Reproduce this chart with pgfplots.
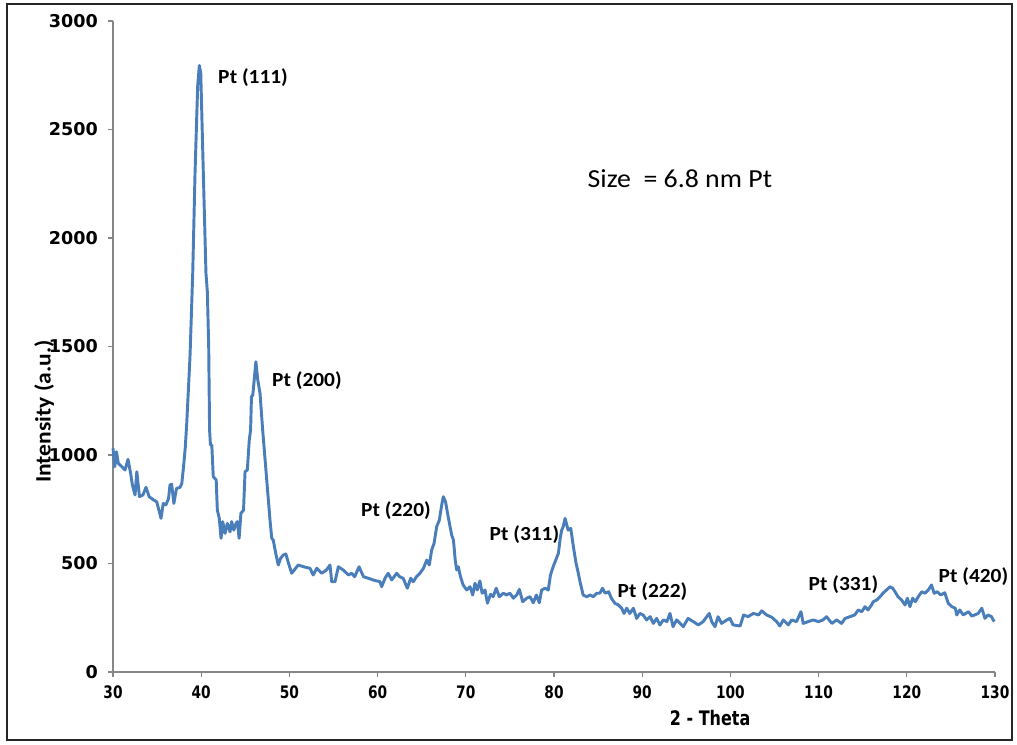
\documentclass[border=0pt]{standalone}
\usepackage{pgfplots}
\pgfplotsset{compat=1.18}
\usepackage{fontspec}
\setmainfont{Carlito}
\newfontfamily\widefont{Carlito}[FakeStretch=1.07]
\newfontfamily\tickfont{DejaVu Sans}
\newfontfamily\xtickfont{DejaVu Sans}[FakeStretch=0.8]
\definecolor{xrdblue}{HTML}{4A7EBB}
\definecolor{axgray}{HTML}{868686}
\begin{document}
\begin{tikzpicture}
\useasboundingbox (0,0) rectangle (762.75pt,558pt);
\draw[line width=0.8pt, black!85] (5.25pt,3pt) rectangle (759pt,555pt);
\begin{axis}[
  at={(84.75pt,54pt)}, anchor=south west,
  width=661.5pt, height=488.25pt, scale only axis,
  xmin=30, xmax=130, ymin=0, ymax=3000,
  xtick={30,40,...,130}, ytick={0,500,...,3000},
  axis lines*=left, axis line style={-, draw=axgray, line width=0.8pt},
  tick align=outside, major tick length=3.75pt,
  tick style={draw=axgray, line width=0.8pt},
  /pgf/number format/assume math mode=true,
  /pgf/number format/1000 sep={},
  scaled y ticks=false,
  yticklabel style={font=\tickfont\bfseries\fontsize{13.2}{15}\selectfont, xshift=-4pt},
  xticklabel style={font=\xtickfont\bfseries\fontsize{12.9}{14}\selectfont, yshift=-3pt},
  xlabel={2 - Theta},
  xlabel style={font=\xtickfont\bfseries\fontsize{15}{17}\selectfont, at={(axis description cs:0.677,-0.0707)}, anchor=center},
  ylabel={Intensity (a.u.)},
  ylabel style={font=\widefont\bfseries\fontsize{16.5}{19}\selectfont, at={(axis description cs:-0.078,0.40)}, anchor=center, rotate=0},
  clip=false,
]
\addplot[color=xrdblue, line width=2.2pt, line join=round] coordinates {
(30.0,1031) (30.2,946) (30.4,1015) (30.6,962) (31.0,946) (31.36,931) (31.7,980) (32.0,915)
(32.2,862) (32.5,816) (32.7,923) (33.0,808) (33.4,816) (33.74,851) (34.1,808) (34.6,793)
(34.95,785) (35.25,739) (35.44,708) (35.7,777) (36.0,770) (36.3,800) (36.46,862) (36.65,866)
(36.9,777) (37.2,846) (37.6,851) (37.8,869) (38.0,946) (38.2,1038) (38.36,1146)
(38.73,1453) (39.04,1838) (39.3,2299) (39.6,2700) (39.79,2795) (39.95,2760) (40.24,2299)
(40.54,1838) (40.7,1750) (40.85,1500) (40.95,1115) (41.05,1046) (41.2,1046)
(41.37,900) (41.7,885) (41.83,746) (42.05,708) (42.25,616) (42.44,693) (42.7,639) (42.96,685)
(43.27,646) (43.45,693) (43.7,654) (43.95,685) (44.1,693) (44.3,616) (44.5,731) (44.8,746)
(44.97,923) (45.23,931) (45.45,1069) (45.6,1115) (45.7,1269) (45.85,1276) (46.2,1430)
(46.4,1350) (46.67,1284) (46.97,1115) (47.43,885) (47.8,700) (48.0,616) (48.17,608)
(48.45,547) (48.74,493) (49.0,524) (49.3,539) (49.6,544) (49.9,501) (50.26,455)
(51.0,493) (51.6,485) (52.33,478) (52.7,447) (53.1,478) (53.66,455) (54.2,470) (54.6,493)
(54.8,416) (55.17,416) (55.55,485) (56.1,470) (56.7,447) (57.06,455) (57.4,439) (57.9,485)
(58.4,439) (58.95,432) (59.5,424) (60.27,416) (60.46,393) (60.84,432) (61.2,455) (61.6,424)
(62.17,455) (62.5,439) (62.9,432) (63.37,386) (63.75,432) (64.05,416) (64.4,439) (64.8,455)
(65.2,478) (65.57,516) (65.86,493) (66.13,562) (66.4,593) (66.7,670) (67.0,700) (67.27,770)
(67.45,808) (67.7,785) (68.0,716) (68.4,631) (68.6,608) (68.8,516) (68.97,470) (69.15,485)
(69.4,439) (69.7,401) (70.1,378) (70.48,393) (70.78,355) (71.04,409) (71.3,378) (71.6,420)
(71.85,363) (72.18,378) (72.45,317) (72.8,358) (73.1,347) (73.45,386) (73.8,347)
(74.25,363) (74.6,355) (75.0,363) (75.4,340) (75.77,355) (76.07,381) (76.45,324) (76.9,340)
(77.28,347) (77.65,319) (78.0,355) (78.33,319) (78.6,378) (79.0,386) (79.35,378) (79.6,447)
(79.9,485) (80.2,516) (80.5,547) (80.7,616) (80.87,654) (81.05,670) (81.25,708) (81.4,685)
(81.6,654) (81.9,662) (82.2,577) (82.5,501) (82.76,455) (82.95,416) (83.3,355) (83.7,347)
(84.1,355) (84.45,347) (84.84,363) (85.2,363) (85.5,386) (85.8,363) (86.2,370) (86.5,340)
(86.9,317) (87.3,309) (87.67,294) (87.94,270) (88.24,294) (88.6,270) (89.0,294) (89.37,247)
(89.75,270) (90.1,263) (90.5,240) (90.9,255) (91.26,224) (91.64,247) (92.0,217) (92.4,240)
(92.8,232) (93.15,270) (93.5,209) (93.9,240) (94.3,224) (94.66,209) (95.2,247) (95.8,232)
(96.36,217) (96.9,232) (97.6,270) (97.88,232) (98.25,209) (98.6,255) (99.0,224) (99.6,240)
(99.95,247) (100.3,217) (101.1,212) (101.5,263) (102.0,255) (102.6,270) (103.2,263)
(103.55,282) (104.1,263) (104.7,252) (105.25,232) (105.6,212) (106.0,240) (106.56,217)
(106.95,240) (107.5,232) (108.0,278) (108.26,224) (108.8,232) (109.4,240) (109.97,232)
(110.5,240) (110.9,255) (111.5,224) (112.05,240) (112.6,224) (113.0,247) (113.56,255)
(114.1,263) (114.5,286) (114.9,278) (115.26,301) (115.6,286) (116.0,309) (116.2,324)
(116.6,332) (116.96,347) (117.3,363) (117.7,378) (118.1,393) (118.4,386) (118.66,370)
(119.0,347) (119.4,332) (119.8,309) (120.06,340) (120.36,301) (120.66,340) (120.96,324)
(121.3,347) (121.7,370) (122.06,363) (122.44,378) (122.8,401) (123.1,363) (123.46,370)
(123.84,355) (124.3,365) (124.7,317) (125.1,301) (125.5,294) (125.66,263) (126.0,286)
(126.4,263) (127.0,278) (127.36,258) (127.7,263) (128.1,270) (128.5,294) (128.86,247)
(129.2,263) (129.6,255) (129.9,232)
};
\begin{scope}[every node/.style={font=\widefont\bfseries\fontsize{15}{17}\selectfont, anchor=west, inner sep=0pt}]
\node at (axis cs:41.9,2737) {Pt (111)};
\node at (axis cs:48.0,1345) {Pt (200)};
\node at (axis cs:58.1,746) {Pt (220)};
\node at (axis cs:72.66,631) {Pt (311)};
\node at (axis cs:87.18,370) {Pt (222)};
\node at (axis cs:108.83,401) {Pt (331)};
\node at (axis cs:123.57,439) {Pt (420)};
\end{scope}
\node[anchor=west, inner sep=0pt, font=\widefont\fontsize{19.5}{22}\selectfont] at (axis cs:83.78,2275) {Size\ \ = 6.8 nm Pt};
\end{axis}
\end{tikzpicture}
\end{document}
